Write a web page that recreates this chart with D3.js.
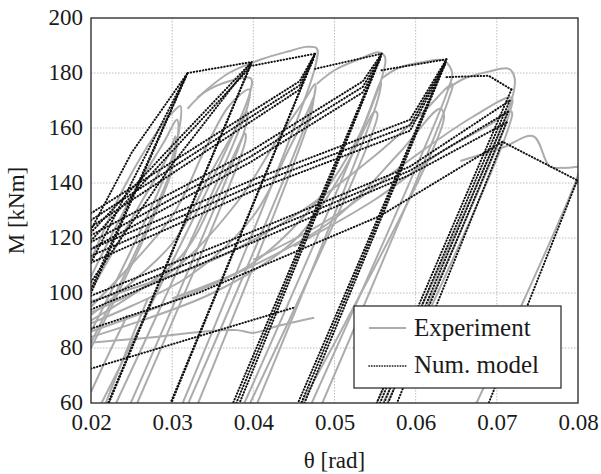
<!DOCTYPE html>
<html><head><meta charset="utf-8">
<script src="https://cdn.jsdelivr.net/npm/d3@7"></script>
<style>body{margin:0;background:#fff}svg{display:block}</style>
</head><body><div id="c"></div>
<script>
// ---- axis ticks ----
const xTicks = [0.02,0.03,0.04,0.05,0.06,0.07,0.08];
const yTicks = [60,80,100,120,140,160,180,200];
const xLabel = "θ [rad]";
const yLabel = "M [kNm]";
const legendLabels = ["Experiment","Num. model"];

// ---- Experiment (grey solid) loops: [theta, M] ----
const expA1 = [
 [[0.02,112],[0.024,138],[0.028,158],[0.0305,167],[0.031,168],[0.0303,152],[0.02,86]],
 [[0.02,106],[0.025,135],[0.029,155],[0.0306,163],[0.0302,148],[0.02,82]],
 [[0.02,101],[0.026,132],[0.0295,150],[0.0304,157],[0.0299,144],[0.02,80]]
];
const expA2 = [
 [[0.0319,167],[0.034,173],[0.037,177],[0.0397,178],[0.0395,172],[0.0213,60]],
 [[0.02,95],[0.03,128],[0.034,152],[0.037,168],[0.0395,174],[0.0393,168],[0.0231,60]],
 [[0.02,92],[0.03,118],[0.035,145],[0.0385,163],[0.0392,166],[0.039,160],[0.0249,60]],
 [[0.02,90],[0.031,113],[0.036,140],[0.039,158],[0.039,155],[0.0257,60]]
];
const expA3 = [
 [[0.0331,171],[0.037,180],[0.041,185],[0.0445,188],[0.0465,189.5],[0.0478,189],[0.0476,182],[0.0313,60]],
 [[0.02,93],[0.03,108],[0.038,133],[0.043,156],[0.0465,171],[0.0476,176],[0.0472,168],[0.032,60]],
 [[0.02,89],[0.032,106],[0.04,128],[0.0445,153],[0.047,168],[0.0474,171],[0.047,164],[0.0332,60]]
];
const expA4 = [
 [[0.0478,176],[0.05,181],[0.053,185],[0.0555,187.5],[0.0562,186],[0.0558,178],[0.0389,60]],
 [[0.02,86],[0.03,97],[0.04,111],[0.048,134],[0.053,157],[0.0557,177],[0.0553,170],[0.0405,60]],
 [[0.02,84],[0.035,100],[0.045,119],[0.051,144],[0.055,166],[0.0553,165],[0.0396,60]]
];
const expA5 = [
 [[0.0558,178],[0.058,182],[0.061,184],[0.0635,184.5],[0.0645,180],[0.064,174],[0.0472,60]],
 [[0.02,97],[0.035,112],[0.045,128],[0.055,150],[0.061,166],[0.0645,176],[0.064,170],[0.0485,60]],
 [[0.03,98],[0.04,110],[0.05,127],[0.058,151],[0.063,167],[0.0635,164],[0.046,60]]
];
const expA6 = [
 [[0.0638,174],[0.066,178],[0.069,180.5],[0.0715,181.5],[0.0722,178],[0.0718,170],[0.0552,60]],
 [[0.04,112],[0.05,128],[0.06,150],[0.067,164],[0.0718,171],[0.0714,164],[0.056,60]],
 [[0.045,117],[0.055,134],[0.063,151],[0.069,161],[0.0718,166],[0.0712,158],[0.0565,60]]
];
const expFinal = [
 [[0.0655,148],[0.0708,153],[0.0745,157],[0.0765,146],[0.078,145.5],[0.0802,146]],
 [[0.0802,147],[0.08,143],[0.0675,60]],
 [[0.02,82],[0.028,84],[0.034,86],[0.038,86.5],[0.04,85.5],[0.043,88],[0.0475,91]],
 [[0.02,64],[0.0222,78],[0.0245,92]],
 [[0.0218,60],[0.0245,80],[0.027,98]]
];

// ---- Numerical model (black dotted) branches: [theta, M] ----
const numEnvelope = [
 [[0.0319,180],[0.0398,184]],
 [[0.0396,182.5],[0.0476,187]],
 [[0.0476,181.5],[0.0558,187]],
 [[0.0558,181],[0.0638,185]],
 [[0.0638,178.5],[0.069,179],[0.0718,174]]
];
const numCycle1 = [
 [[0.02,123],[0.025,151],[0.0319,180]],
 [[0.02,100],[0.0319,180]],
 [[0.02,101.5],[0.0318,179.5]],
 [[0.02,111],[0.0317,179]]
];
const numCycle2 = [
 [[0.02,122],[0.0295,152],[0.0398,184]],
 [[0.02,119],[0.0295,150],[0.0396,182]],
 [[0.02,104],[0.0298,146],[0.0398,184]],
 [[0.0398,184],[0.0221,60]],
 [[0.0397,183],[0.0222,60]]
];
const numCycle3 = [
 [[0.02,129],[0.0457,177],[0.0476,187]],
 [[0.02,126.5],[0.0457,175.5],[0.0476,187]],
 [[0.02,124],[0.0457,174],[0.0474,185]],
 [[0.0476,187],[0.0298,60]],
 [[0.0475,186],[0.0299,60]]
];
const numCycle4 = [
 [[0.02,121],[0.0396,151.5],[0.0535,177],[0.0558,187]],
 [[0.02,118.5],[0.0396,149.5],[0.0535,175],[0.0557,186]],
 [[0.02,116],[0.0396,147.5],[0.0535,173],[0.0556,185]],
 [[0.0558,187],[0.0375,60]],
 [[0.0557,186],[0.0379,60]],
 [[0.0556,185],[0.0383,60]]
];
const numCycle5 = [
 [[0.02,116],[0.0402,141.5],[0.0593,163],[0.0638,185]],
 [[0.02,113.5],[0.0402,139.5],[0.0593,161],[0.0637,184]],
 [[0.02,111],[0.0402,137.5],[0.0593,159],[0.0636,183]],
 [[0.0638,185],[0.0455,60]],
 [[0.0637,184],[0.0459,60]],
 [[0.0636,183],[0.0463,60]]
];
const numCycle6 = [
 [[0.02,99],[0.0396,122],[0.0593,146],[0.0716,170]],
 [[0.02,96.5],[0.0396,120],[0.0593,144.5],[0.0714,166]],
 [[0.02,94],[0.0396,118],[0.0593,143],[0.0712,162]],
 [[0.0718,174],[0.0552,60]],
 [[0.0716,170],[0.0556,60]],
 [[0.0714,166],[0.0561,60]],
 [[0.0712,162],[0.0566,60]]
];
const numCycle7 = [
 [[0.02,87],[0.0332,100],[0.0556,128],[0.0707,155],[0.0799,141],[0.0802,139]],
 [[0.0707,155],[0.0577,60]],
 [[0.0799,141],[0.069,60]],
 [[0.02,72.5],[0.0449,94.6]]
];

const expLines = [].concat(expA1,expA2,expA3,expA4,expA5,expA6,expFinal);
const numLines = [].concat(numEnvelope,numCycle1,numCycle2,numCycle3,numCycle4,numCycle5,numCycle6,numCycle7);

// ---- drawing ----
const W = 601, H = 474;
const m = {l:91, r:23, t:18, b:71};
const svg = d3.select("#c").append("svg").attr("width",W).attr("height",H);
const x = d3.scaleLinear().domain([0.02,0.08]).range([m.l, W-m.r]);
const y = d3.scaleLinear().domain([60,200]).range([H-m.b, m.t]);
const font = "'Liberation Serif','Times New Roman',serif";

svg.append("clipPath").attr("id","clip").append("rect")
  .attr("x",m.l).attr("y",m.t).attr("width",W-m.r-m.l).attr("height",H-m.b-m.t);

// grid
const grid = svg.append("g");
grid.selectAll(".gx").data(xTicks.slice(1,-1)).enter().append("line")
  .attr("x1",d=>x(d)).attr("x2",d=>x(d)).attr("y1",m.t).attr("y2",H-m.b)
  .attr("stroke","#bdbdbd").attr("stroke-width",1).attr("stroke-dasharray","1.5,1.5");
grid.selectAll(".gy").data(yTicks.slice(1,-1)).enter().append("line")
  .attr("y1",d=>y(d)).attr("y2",d=>y(d)).attr("x1",m.l).attr("x2",W-m.r)
  .attr("stroke","#bdbdbd").attr("stroke-width",1).attr("stroke-dasharray","1.5,1.5");

const plot = svg.append("g").attr("clip-path","url(#clip)");
const lineCurve = d3.line().x(d=>x(d[0])).y(d=>y(d[1])).curve(d3.curveCatmullRom.alpha(0.5));
const lineStraight = d3.line().x(d=>x(d[0])).y(d=>y(d[1]));

plot.selectAll(".exp").data(expLines).enter().append("path")
  .attr("d",lineCurve).attr("fill","none").attr("stroke","#acacac").attr("stroke-width",2);
plot.selectAll(".num").data(numLines).enter().append("path")
  .attr("d",lineStraight).attr("fill","none").attr("stroke","#111").attr("stroke-width",2)
  .attr("stroke-linecap","round").attr("stroke-dasharray","0.5,2.6");

// axes (labels) + frame
const xAxis = d3.axisBottom(x).tickValues(xTicks).tickSize(0).tickPadding(11).tickFormat(d3.format(".2f"));
const yAxis = d3.axisLeft(y).tickValues(yTicks).tickSize(0).tickPadding(8).tickFormat(d3.format("d"));
const gx = svg.append("g").attr("transform",`translate(0,${H-m.b})`).call(xAxis);
const gy = svg.append("g").attr("transform",`translate(${m.l},0)`).call(yAxis);
[gx,gy].forEach(g=>{
  g.select(".domain").remove();
  g.selectAll("text").attr("font-family",font).attr("font-size",23).attr("fill","#1a1a1a");
});
gy.selectAll("text").attr("dy","0.28em");
svg.append("rect").attr("x",m.l).attr("y",m.t).attr("width",W-m.r-m.l).attr("height",H-m.b-m.t)
  .attr("fill","none").attr("stroke","#222").attr("stroke-width",1.3);

svg.append("text").attr("x",(m.l+W-m.r)/2).attr("y",468).attr("text-anchor","middle")
  .attr("font-family",font).attr("font-size",23).attr("fill","#1a1a1a").text(xLabel);
svg.append("text").attr("transform",`translate(24,${(m.t+H-m.b)/2}) rotate(-90)`).attr("text-anchor","middle")
  .attr("font-family",font).attr("font-size",23).attr("fill","#1a1a1a").text(yLabel);

// legend
const lg = svg.append("g");
lg.append("rect").attr("x",354).attr("y",306).attr("width",207).attr("height",82)
  .attr("fill","#fff").attr("stroke","#222").attr("stroke-width",1.2);
lg.append("line").attr("x1",369).attr("x2",406).attr("y1",328).attr("y2",328)
  .attr("stroke","#acacac").attr("stroke-width",2);
lg.append("line").attr("x1",369).attr("x2",406).attr("y1",366).attr("y2",366)
  .attr("stroke","#111").attr("stroke-width",1.6).attr("stroke-linecap","round").attr("stroke-dasharray","0.4,2.2");
lg.selectAll(".lt").data(legendLabels).enter().append("text")
  .attr("x",414).attr("y",(d,i)=>336+i*37)
  .attr("font-family",font).attr("font-size",25).attr("fill","#1a1a1a").text(d=>d);
</script></body></html>
